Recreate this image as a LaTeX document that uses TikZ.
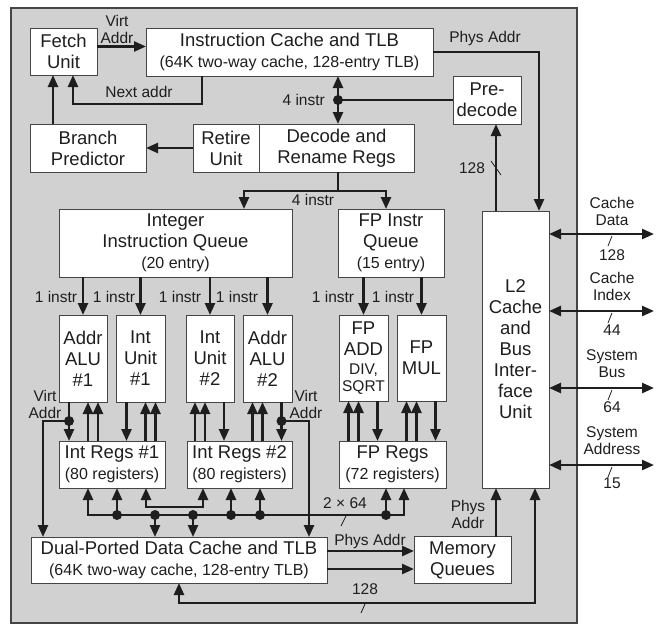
\documentclass[tikz,border=0pt]{standalone}
\usepackage{fontspec}
\setmainfont{Liberation Sans}
\usetikzlibrary{arrows.meta,positioning}
\definecolor{ink}{HTML}{1E1E1E}
\definecolor{panel}{HTML}{D1D1D1}
\definecolor{edge}{HTML}{454545}
\newcommand{\bigtxt}{\fontsize{18.5}{21}\selectfont}
\newcommand{\subtxt}{\fontsize{16}{18}\selectfont}
\newcommand{\lbltxt}{\fontsize{15.5}{17}\selectfont}

\begin{document}
\begin{tikzpicture}[x=1pt,y=-1pt,
    box/.style={draw=edge,line width=0.9pt,fill=white,text=ink,inner sep=0pt,outer sep=0pt,align=center,font=\bigtxt},
    lbl/.style={text=ink,inner sep=0pt,align=center,font=\lbltxt},
    arr/.style={-{Triangle[length=12pt,width=10pt]},line width=2.5pt,draw=ink},
    arrb/.style={{Triangle[length=12pt,width=10pt]}-{Triangle[length=12pt,width=10pt]},line width=2.5pt,draw=ink},
    wire/.style={line width=2.5pt,draw=ink},
    tick/.style={line width=0.8pt,draw=ink}]
    \useasboundingbox (0,0) rectangle (658,633);
    \draw[draw=edge,line width=1.2pt,fill=panel] (11,8) rectangle (577,623);
    % front end
    \node[box,minimum width=67pt,minimum height=47pt] (fetch) at (63.5,51.5) {Fetch\\Unit};
    \node[box,minimum width=287pt,minimum height=48pt] (icache) at (289.5,52) {Instruction Cache and TLB\\{\subtxt(64K two-way cache, 128-entry TLB)}};
    \node[box,minimum width=116pt,minimum height=48pt] (bp) at (88,148) {Branch\\Predictor};
    \node[box,minimum width=66pt,minimum height=48pt] (retire) at (226,148) {Retire\\Unit};
    \node[box,minimum width=155pt,minimum height=48pt,right=0pt of retire] (decode) {Decode and\\Rename Regs};
    \node[box,minimum width=68pt,minimum height=48pt] (predec) at (487,100) {Pre-\\decode};
    % queues and units
    \node[box,minimum width=233pt,minimum height=68pt] (iq) at (175.5,243) {Integer\\Instruction Queue\\{\subtxt(20 entry)}};
    \node[box,minimum width=106pt,minimum height=68pt] (fq) at (391,243) {FP Instr\\Queue\\{\subtxt(15 entry)}};
    \node[box,minimum width=67pt,minimum height=277pt] (l2) at (515.5,349.5) {L2\\Cache\\and\\Bus\\Inter-\\face\\Unit};
    \node[box,minimum width=48pt,minimum height=87pt] (aluA) at (83,358.5) {Addr\\ALU\\\#1};
    \node[box,minimum width=49pt,minimum height=87pt,right=9pt of aluA] (intA) {Int\\Unit\\\#1};
    \node[box,minimum width=48pt,minimum height=87pt,right=21pt of intA] (intB) {Int\\Unit\\\#2};
    \node[box,minimum width=49pt,minimum height=87pt,right=9pt of intB] (aluB) {Addr\\ALU\\\#2};
    \node[box,minimum width=49pt,minimum height=86pt] (fadd) at (363.5,358) {FP\\ADD\\[-2pt]{\lbltxt DIV,}\\[-4pt]{\lbltxt SQRT}};
    \node[box,minimum width=49pt,minimum height=86pt,right=9pt of fadd] (fmul) {FP\\MUL};
    % registers and memory
    \node[box,minimum width=106pt,minimum height=47pt] (regA) at (112,464.5) {Int Regs \#1\\{\subtxt(80 registers)}};
    \node[box,minimum width=105pt,minimum height=47pt,right=22pt of regA] (regB) {Int Regs \#2\\{\subtxt(80 registers)}};
    \node[box,minimum width=107pt,minimum height=47pt] (fregs) at (392.5,464.5) {FP Regs\\{\subtxt(72 registers)}};
    \node[box,minimum width=296pt,minimum height=46pt] (dcache) at (179,560) {Dual-Ported Data Cache and TLB\\{\subtxt(64K two-way cache, 128-entry TLB)}};
    \node[box,minimum width=97pt,minimum height=47pt,right=87pt of dcache] (memq) {Memory\\Queues};

    % fetch loop
    \draw[arr] ([yshift=5pt]fetch.east) -- ([yshift=5pt]fetch.east -| icache.west);
    \node[lbl] (vaTop) at (117,29.5) {Virt\\Addr};
    \draw[arr] ([xshift=-87.5pt]icache.south) -- ++(0,28) -| ([xshift=9.5pt]fetch.south);
    \node[lbl] (nextAddr) at (139,92) {Next addr};
    \draw[arr] ([xshift=-10.5pt]fetch.south |- bp.north) -- ([xshift=-10.5pt]fetch.south);
    \draw[arr] (retire.west) -- (bp.east);
    % icache, decode, predecode
    \coordinate (fork) at ([xshift=1.5pt]decode.north |- predec.west);
    \draw[arrb] ([xshift=1.5pt]decode.north) -- ([xshift=1.5pt]decode.north |- icache.south);
    \draw[wire] (fork) -- (predec.west);
    \fill[ink] (fork) circle (5);
    \node[lbl,left=13pt of fork] (fourA) {4 instr};
    \draw[arr] (icache.east) -| ([xshift=23.5pt]l2.north);
    \node[lbl] (paTop) at (485,38) {Phys Addr};
    \draw[arr] ([xshift=-19.5pt]l2.north) -- ([xshift=-19.5pt]l2.north |- predec.south);
    \node[lbl] (wTop) at (472,168) {128};
    \draw[tick] (491,161) -- (501,175);
    % issue
    \draw[arr] ([xshift=1.5pt]decode.south) -- ++(0,19) -| ([xshift=68.5pt]iq.north);
    \draw[arr] ([xshift=1.5pt]decode.south) -- ++(0,19) -| ([xshift=-5pt]fq.north);
    \node[lbl] (fourB) at (313,200) {4 instr};
    \draw[arr] (iq.south -| aluA.north) -- (aluA.north); \draw[arr] (iq.south -| intA.north) -- (intA.north);
    \draw[arr] (iq.south -| intB.north) -- (intB.north); \draw[arr] (iq.south -| aluB.north) -- (aluB.north);
    \draw[arr] (fq.south -| fadd.north) -- (fadd.north); \draw[arr] (fq.south -| fmul.north) -- (fmul.north);
    \node[lbl] (oneA) at (56,297) {1 instr}; \node[lbl] (oneB) at (114,297) {1 instr};
    \node[lbl] (oneC) at (180,297) {1 instr}; \node[lbl] (oneD) at (237,297) {1 instr};
    \node[lbl] (oneE) at (333,297) {1 instr}; \node[lbl] (oneF) at (393,297) {1 instr};
    % units <-> registers
    \draw[arr] ([xshift=-14pt]aluA.south) -- ([xshift=-14pt]aluA.south |- regA.north);
    \draw[arr] ([xshift=5pt]aluA.south |- regA.north) -- ([xshift=5pt]aluA.south);
    \draw[arr] ([xshift=15pt]aluA.south |- regA.north) -- ([xshift=15pt]aluA.south);
    \draw[arr] ([xshift=-14pt]intA.south) -- ([xshift=-14pt]intA.south |- regA.north);
    \draw[arr] ([xshift=5pt]intA.south |- regA.north) -- ([xshift=5pt]intA.south);
    \draw[arr] ([xshift=15pt]intA.south |- regA.north) -- ([xshift=15pt]intA.south);
    \draw[arr] ([xshift=-15pt]intB.south |- regB.north) -- ([xshift=-15pt]intB.south);
    \draw[arr] ([xshift=-5pt]intB.south |- regB.north) -- ([xshift=-5pt]intB.south);
    \draw[arr] ([xshift=14pt]intB.south) -- ([xshift=14pt]intB.south |- regB.north);
    \draw[arr] ([xshift=-15pt]aluB.south |- regB.north) -- ([xshift=-15pt]aluB.south);
    \draw[arr] ([xshift=-5pt]aluB.south |- regB.north) -- ([xshift=-5pt]aluB.south);
    \draw[arr] ([xshift=14pt]aluB.south) -- ([xshift=14pt]aluB.south |- regB.north);
    \draw[arr] ([xshift=-15pt]fadd.south |- fregs.north) -- ([xshift=-15pt]fadd.south);
    \draw[arr] ([xshift=-5pt]fadd.south |- fregs.north) -- ([xshift=-5pt]fadd.south);
    \draw[arr] ([xshift=14pt]fadd.south) -- ([xshift=14pt]fadd.south |- fregs.north);
    \draw[arr] ([xshift=-15pt]fmul.south |- fregs.north) -- ([xshift=-15pt]fmul.south);
    \draw[arr] ([xshift=-5pt]fmul.south |- fregs.north) -- ([xshift=-5pt]fmul.south);
    \draw[arr] ([xshift=14pt]fmul.south) -- ([xshift=14pt]fmul.south |- fregs.north);
    % virtual addresses to data cache
    \coordinate (vaA) at ([xshift=-14pt,yshift=-19pt]aluA.south);
    \coordinate (vaB) at ([xshift=14pt,yshift=-19pt]aluB.south);
    \draw[arr] (vaA) -| ([xshift=-136pt]dcache.north);
    \draw[arr] (vaB) -| ([xshift=130pt]dcache.north);
    \fill[ink] (vaA) circle (5); \fill[ink] (vaB) circle (5);
    \node[lbl] (vaL) at (45,404) {Virt\\Addr};
    \node[lbl] (vaR) at (306,404) {Virt\\Addr};
    % result bus
    \coordinate (bus) at (0,515);
    \draw[arrb] ([xshift=-24pt]regA.south) -- ([xshift=-24pt]regA.south |- bus) -- ([xshift=11.5pt]fregs.south |- bus) -- ([xshift=11.5pt]fregs.south);
    \coordinate (b1) at ([xshift=5pt]regA.south |- bus);
    \coordinate (b2) at ([xshift=-24pt]dcache.north |- bus);
    \coordinate (b3) at ([xshift=14pt]dcache.north |- bus);
    \coordinate (b4) at ([xshift=-8.5pt]regB.south |- bus);
    \coordinate (b5) at ([xshift=20.5pt]regB.south |- bus);
    \coordinate (b6) at ([xshift=-6.5pt]fregs.south |- bus);
    \draw[arr] (b1) -- ([xshift=5pt]regA.south); \draw[arr] (b2) -- ([xshift=-24pt]dcache.north);
    \draw[arr] (b3) -- ([xshift=14pt]dcache.north); \draw[arr] (b4) -- ([xshift=-8.5pt]regB.south);
    \draw[arr] (b5) -- ([xshift=20.5pt]regB.south); \draw[arr] (b6) -- ([xshift=-6.5pt]fregs.south);
    \fill[ink] (b1) circle (5); \fill[ink] (b2) circle (5); \fill[ink] (b3) circle (5);
    \fill[ink] (b4) circle (5); \fill[ink] (b5) circle (5); \fill[ink] (b6) circle (5);
    \draw[arrb] ([xshift=34pt]regA.south) -- ++(0,19) -| ([xshift=-36.5pt]regB.south);
    \node[lbl] (twoBus) at (345,503) {2 × 64};
    \draw[tick] (341,526) -- (346,516);
    % memory side
    \draw[arr] ([yshift=9pt]dcache.east) -- ([yshift=9pt]dcache.east -| memq.west);
    \draw[arr] ([yshift=-9pt]dcache.east) -- ([yshift=-9pt]dcache.east -| memq.west);
    \node[lbl] (paMid) at (370,541) {Phys Addr};
    \draw[arr] ([xshift=33.5pt]memq.north) -- ([xshift=33.5pt]memq.north |- l2.south);
    \node[lbl] (paLow) at (468,514) {Phys\\Addr};
    \draw[arrb] (dcache.south) -- ++(0,20) -| ([xshift=19.5pt]l2.south);
    \node[lbl] (wLow) at (365,589) {128};
    \draw[tick] (361,613) -- (365,604);
    % external buses
    \coordinate (cdata) at (654,234); \coordinate (cindex) at (654,311);
    \coordinate (sbus) at (654,388); \coordinate (saddr) at (654,465);
    \draw[arrb] ([yshift=115.5pt]l2.east) -- (cdata); \draw[arrb] ([yshift=38.5pt]l2.east) -- (cindex);
    \draw[arrb] ([yshift=-38.5pt]l2.east) -- (sbus); \draw[arrb] ([yshift=-115.5pt]l2.east) -- (saddr);
    \node[lbl] (cdataL) at (612,211.5) {Cache\\Data}; \node[lbl] (cdataW) at (612,255) {128};
    \node[lbl] (cindexL) at (612,286.5) {Cache\\Index}; \node[lbl] (cindexW) at (612,330) {44};
    \node[lbl] (sbusL) at (612,363.5) {System\\Bus}; \node[lbl] (sbusW) at (612,407) {64};
    \node[lbl] (saddrL) at (612,440.5) {System\\Address}; \node[lbl] (saddrW) at (612,483) {15};
    \draw[tick] (608,246) -- (612,236); \draw[tick] (608,323) -- (612,313);
    \draw[tick] (608,400) -- (612,390); \draw[tick] (608,477) -- (612,467);
\end{tikzpicture}
\end{document}
